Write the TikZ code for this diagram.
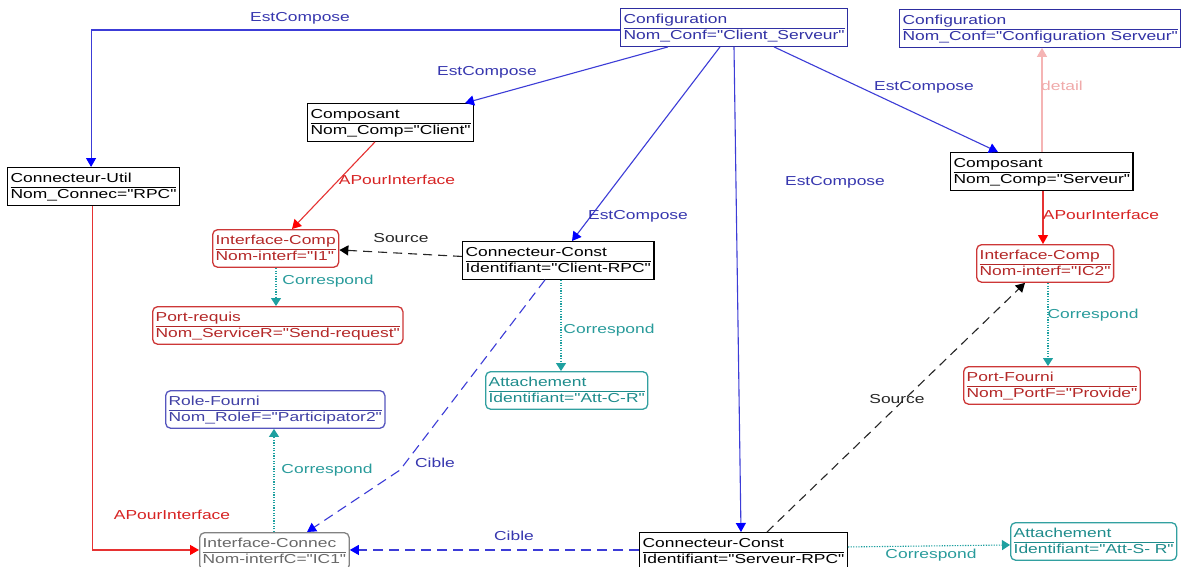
\documentclass[tikz,border=0pt]{standalone}
\usepackage{fontspec}
\newfontfamily\diag{Liberation Sans}[FakeStretch=1.34]
\usetikzlibrary{arrows.meta}
\setlength\arrayrulewidth{0.8pt}
\definecolor{cfgline}{RGB}{45,45,160}
\definecolor{cfgtext}{RGB}{50,50,165}
\definecolor{estline}{RGB}{60,60,215}
\definecolor{lblblue}{RGB}{55,55,175}
\definecolor{redline}{RGB}{230,50,50}
\definecolor{redlbl}{RGB}{215,35,35}
\definecolor{rednode}{RGB}{205,55,55}
\definecolor{redtext}{RGB}{180,40,40}
\definecolor{tealline}{RGB}{30,160,160}
\definecolor{teallbl}{RGB}{40,155,155}
\definecolor{tealnode}{RGB}{50,160,160}
\definecolor{tealtext}{RGB}{30,140,140}
\definecolor{rolblue}{RGB}{85,85,190}
\definecolor{roltext}{RGB}{65,65,165}
\definecolor{greynode}{RGB}{130,130,130}
\definecolor{greytext}{RGB}{105,105,105}
\definecolor{pinkline}{RGB}{245,180,180}
\definecolor{pinklbl}{RGB}{240,170,170}
\newcommand\twol[2]{\begin{tabular}{@{}l@{}}\rule{0pt}{13pt}#1\\\hline #2\end{tabular}}
\begin{document}
\begin{tikzpicture}[x=1pt,y=-1pt,
  every node/.style={font=\diag\fontsize{13}{16}\selectfont},
  obox/.style={draw, line width=1.3pt, anchor=north west, inner xsep=3pt, inner ysep=1.5pt},
  blk/.style={obox, draw=black, text=black},
  cfg/.style={obox, draw=cfgline, text=cfgtext},
  rnd/.style={obox, rounded corners=5pt},
  redn/.style={rnd, draw=rednode, text=redtext},
  tealn/.style={rnd, draw=tealnode, text=tealtext},
  bluen/.style={rnd, draw=rolblue, text=roltext},
  greyn/.style={rnd, draw=greynode, text=greytext},
  estc/.style={draw=estline, line width=1.1pt, -{Triangle[length=9pt,width=10pt,color=blue]}},
  apint/.style={draw=redline, line width=1.1pt, -{Triangle[length=9pt,width=10pt,color=red]}},
  srcl/.style={draw=black!85, line width=1.1pt, dash pattern=on 9pt off 6pt, -{Triangle[length=9pt,width=10pt,color=black]}},
  cibl/.style={draw=estline, line width=1.1pt, dash pattern=on 10pt off 6pt, -{Triangle[length=9pt,width=10pt,color=blue]}},
  corr/.style={draw=tealline, line width=1.1pt, dash pattern=on 1.3pt off 1.3pt, -{Triangle[length=8pt,width=10pt,color=tealline]}},
  det/.style={draw=pinkline, line width=1.1pt, -{Triangle[length=9pt,width=10pt,color=pinkline]}},
  lbl/.style={inner sep=1pt},
  lb/.style={lbl, text=lblblue},
  lr/.style={lbl, text=redlbl},
  lt/.style={lbl, text=teallbl},
  lk/.style={lbl, text=black!85},
  lp/.style={lbl, text=pinklbl}]
\useasboundingbox (0,0) rectangle (1181,566);
\clip (0,0) rectangle (1181,566);
\fill[white] (0,0) rectangle (1181,566);

% nodes
\node[cfg] (conf) at (620,8) {\twol{Configuration}{Nom\_Conf="Client\_Serveur"}};
\node[cfg] (csv) at (899,9) {\twol{Configuration}{Nom\_Conf="Configuration Serveur"}};
\node[blk] (cc) at (307,103) {\twol{Composant}{Nom\_Comp="Client"}};
\node[blk] (cu) at (7,167) {\twol{Connecteur-Util}{Nom\_Connec="RPC"}};
\node[blk] (cs) at (950,152) {\twol{Composant}{Nom\_Comp="Serveur"}};
\node[redn] (i1) at (212,229) {\twol{Interface-Comp}{Nom-interf="I1"}};
\node[blk] (ccl) at (462,241) {\twol{Connecteur-Const}{Identifiant="Client-RPC"}};
\node[redn] (pr) at (152,306) {\twol{Port-requis}{Nom\_ServiceR="Send-request"}};
\node[tealn] (acr) at (485,371) {\twol{Attachement}{Identifiant="Att-C-R"}};
\node[redn] (ic2) at (976,244) {\twol{Interface-Comp}{Nom-interf="IC2"}};
\node[redn] (pf) at (963,366) {\twol{Port-Fourni}{Nom\_PortF="Provide"}};
\node[bluen] (rf) at (165,390) {\twol{Role-Fourni}{Nom\_RoleF="Participator2"}};
\node[greyn] (ic1) at (199,532) {\twol{Interface-Connec}{Nom-interfC="IC1"}};
\node[blk] (csr) at (639,532) {\twol{Connecteur-Const}{Identifiant="Serveur-RPC"}};
\node[tealn] (asr) at (1010,522) {\twol{Attachement}{Identifiant="Att-S- R"}};

% EstCompose
\draw[estc] ([yshift=-2.5pt]conf.west) -| ([xshift=-2.5pt]cu.north) node[lb] at (300,18) {EstCompose};
\draw[estc] ([xshift=48pt]conf.south west) -- ([xshift=158pt]cc.north west) node[lb] at (487,72) {EstCompose};
\draw[estc] ([xshift=100pt]conf.south west) -- ([xshift=110pt]ccl.north west) node[lb] at (638,216) {EstCompose};
\draw[estc] ([xshift=114pt]conf.south west) -- ([xshift=102pt]csr.north west) node[lb] at (835,182) {EstCompose};
\draw[estc] ([xshift=154pt]conf.south west) -- ([xshift=48pt]cs.north west) node[lb] at (924,87) {EstCompose};
% detail
\draw[det] ([xshift=92pt]cs.north west) -- ([xshift=143pt]csv.south west) node[lp] at (1062,86) {detail};
% APourInterface
\draw[apint] ([xshift=68pt]cc.south west) -- ([xshift=80pt]i1.north west) node[lr] at (397,180) {APourInterface};
\draw[apint] ([xshift=93pt]cs.south west) -- ([xshift=67pt]ic2.north west) node[lr] at (1101,215) {APourInterface};
\draw[apint] ([xshift=-1pt]cu.south) |- ([yshift=1.5pt]ic1.west) node[lr] at (172,515) {APourInterface};
% Source
\draw[srcl] ([yshift=4pt]ccl.west) -- ([yshift=-1.5pt]i1.east) node[lk] at (401,238) {Source};
\draw[srcl] ([xshift=128pt]csr.north west) -- ([xshift=49pt]ic2.south west) node[lk] at (897,399) {Source};
% Correspond
\draw[corr] ([xshift=64pt]i1.south west) -- ([xshift=124pt]pr.north west) node[lt] at (328,281) {Correspond};
\draw[corr] ([xshift=99pt]ccl.south west) -- ([xshift=76pt]acr.north west) node[lt] at (609,330) {Correspond};
\draw[corr] ([xshift=72pt]ic2.south west) -- ([xshift=85pt]pf.north west) node[lt] at (1093,315) {Correspond};
\draw[corr] ([xshift=75pt]ic1.north west) -- ([xshift=109pt]rf.south west) node[lt] at (327,470) {Correspond};
\draw[corr] ([yshift=4.5pt]csr.east) -- ([yshift=-3.5pt]asr.west) node[lt] at (931,555) {Correspond};
% Cible
\coordinate (cb) at (400,470);
\draw[cibl] ([xshift=83pt]ccl.south west) -- (cb) -- ([xshift=108pt]ic1.north west) node[lb] at (435,463) {Cible};
\draw[cibl] ([yshift=1.5pt]csr.west) -- ([yshift=1.5pt]ic1.east) node[lb] at (514,536) {Cible};
\end{tikzpicture}
\end{document}
